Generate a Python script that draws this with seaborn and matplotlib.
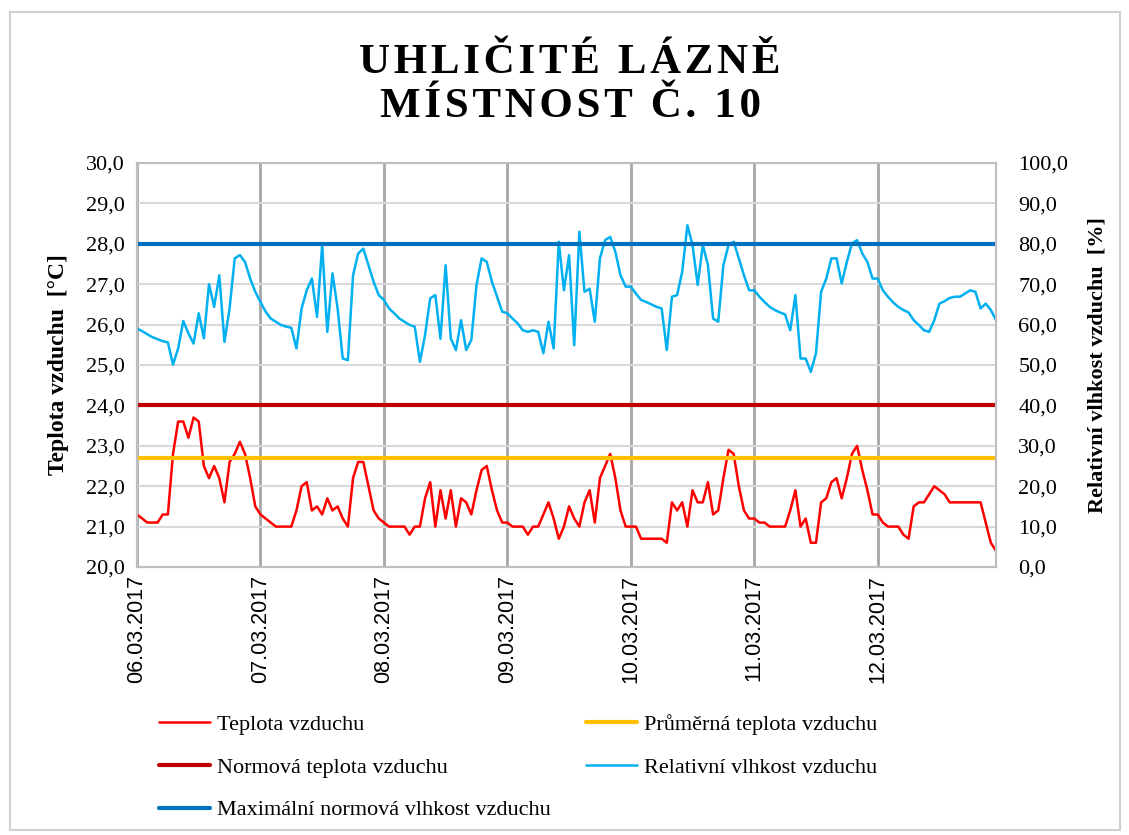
import numpy as np
import pandas as pd
import matplotlib
matplotlib.use("Agg")
import matplotlib.pyplot as plt
import seaborn as sns
from matplotlib.patches import Rectangle
from matplotlib.ticker import FuncFormatter

# hourly readings 06.03.2017 00:00 - 12.03.2017 23:00
teplota = [
    21.3, 21.2, 21.1, 21.1, 21.1, 21.3, 21.3, 22.8, 23.6, 23.6, 23.2, 23.7,
    23.6, 22.5, 22.2, 22.5, 22.2, 21.6, 22.6, 22.8, 23.1, 22.8, 22.2, 21.5,
    21.3, 21.2, 21.1, 21.0, 21.0, 21.0, 21.0, 21.4, 22.0, 22.1, 21.4, 21.5,
    21.3, 21.7, 21.4, 21.5, 21.2, 21.0, 22.2, 22.6, 22.6, 22.0, 21.4, 21.2,
    21.1, 21.0, 21.0, 21.0, 21.0, 20.8, 21.0, 21.0, 21.7, 22.1, 21.0, 21.9,
    21.2, 21.9, 21.0, 21.7, 21.6, 21.3, 21.9, 22.4, 22.5, 21.9, 21.4, 21.1,
    21.1, 21.0, 21.0, 21.0, 20.8, 21.0, 21.0, 21.3, 21.6, 21.2, 20.7, 21.0,
    21.5, 21.2, 21.0, 21.6, 21.9, 21.1, 22.2, 22.5, 22.8, 22.2, 21.4, 21.0,
    21.0, 21.0, 20.7, 20.7, 20.7, 20.7, 20.7, 20.6, 21.6, 21.4, 21.6, 21.0,
    21.9, 21.6, 21.6, 22.1, 21.3, 21.4, 22.2, 22.9, 22.8, 22.0, 21.4, 21.2,
    21.2, 21.1, 21.1, 21.0, 21.0, 21.0, 21.0, 21.4, 21.9, 21.0, 21.2, 20.6,
    20.6, 21.6, 21.7, 22.1, 22.2, 21.7, 22.2, 22.8, 23.0, 22.4, 21.9, 21.3,
    21.3, 21.1, 21.0, 21.0, 21.0, 20.8, 20.7, 21.5, 21.6, 21.6, 21.8, 22.0,
    21.9, 21.8, 21.6, 21.6, 21.6, 21.6, 21.6, 21.6, 21.6, 21.1, 20.6, 20.4,
]
vlhkost = [
    59.0, 58.4, 57.6, 56.9, 56.4, 55.9, 55.6, 50.1, 54.1, 60.9, 57.8, 55.3,
    62.8, 56.6, 70.0, 64.4, 72.2, 55.7, 64.0, 76.4, 77.2, 75.5, 71.4, 68.1,
    65.6, 63.2, 61.5, 60.7, 59.9, 59.5, 59.2, 54.1, 64.0, 68.5, 71.4, 61.9,
    79.7, 58.2, 72.7, 64.0, 51.6, 51.2, 72.2, 77.6, 78.8, 74.7, 70.6, 67.3,
    66.1, 64.0, 62.8, 61.5, 60.7, 59.9, 59.5, 50.8, 57.4, 66.5, 67.3, 56.5,
    74.7, 56.6, 53.7, 61.1, 53.7, 56.2, 69.8, 76.4, 75.5, 70.6, 66.9, 63.2,
    62.8, 61.5, 60.3, 58.6, 58.2, 58.6, 58.2, 52.9, 60.7, 54.1, 80.5, 68.5,
    77.2, 54.9, 83.0, 68.1, 68.9, 60.7, 76.4, 80.9, 81.7, 78.0, 72.2, 69.4,
    69.4, 67.7, 66.1, 65.6, 65.0, 64.4, 64.0, 53.7, 66.9, 67.3, 73.1, 84.6,
    79.7, 69.8, 79.7, 74.7, 61.5, 60.7, 74.7, 79.7, 80.5, 76.4, 72.2, 68.5,
    68.5, 66.9, 65.6, 64.4, 63.6, 63.0, 62.5, 58.6, 67.3, 51.6, 51.6, 48.3,
    52.9, 68.1, 71.4, 76.4, 76.4, 70.2, 75.5, 80.1, 80.9, 77.6, 75.5, 71.4,
    71.4, 68.5, 66.9, 65.5, 64.4, 63.6, 63.0, 61.1, 59.9, 58.6, 58.2, 61.1,
    65.2, 65.8, 66.6, 66.9, 66.9, 67.7, 68.5, 68.1, 64.0, 65.2, 63.6, 61.1,
]
dny = ["06.03.2017", "07.03.2017", "08.03.2017", "09.03.2017",
       "10.03.2017", "11.03.2017", "12.03.2017"]
prumerna_teplota = 22.7
normova_teplota = 24.0
max_vlhkost = 80.0

hodiny = np.arange(len(teplota))
df = pd.DataFrame({
    "hod": hodiny,
    "teplota": teplota,
    "prumer": prumerna_teplota,
    "norma": normova_teplota,
    "vlhkost": vlhkost,
    "max_vlhkost": max_vlhkost,
})

sns.set_style("white")
plt.rcParams["font.family"] = ["Liberation Serif", "DejaVu Serif"]
plt.rcParams["text.color"] = "black"
plt.rcParams["xtick.color"] = "black"
plt.rcParams["ytick.color"] = "black"
plt.rcParams["axes.labelcolor"] = "black"

fig = plt.figure(figsize=(11.29, 8.35), dpi=100)
fig.patches.append(Rectangle((10 / 1129, 5 / 835), 1110 / 1129, 818 / 835,
                             transform=fig.transFigure, fill=False,
                             edgecolor="#d0d0d0", linewidth=1.5))
ax = fig.add_axes([137 / 1129, 1 - 567 / 835, 859 / 1129, 404 / 835])
ax2 = ax.twinx()

sns.lineplot(data=df, x="hod", y="teplota", ax=ax, color="#FF0000", lw=1.8,
             label="Teplota vzduchu", legend=False)
sns.lineplot(data=df, x="hod", y="prumer", ax=ax, color="#FFC000", lw=3,
             label="Průměrná teplota vzduchu", legend=False)
sns.lineplot(data=df, x="hod", y="norma", ax=ax, color="#C00000", lw=3,
             label="Normová teplota vzduchu", legend=False)
sns.lineplot(data=df, x="hod", y="vlhkost", ax=ax2, color="#00B0F0", lw=1.8,
             label="Relativní vlhkost vzduchu", legend=False)
sns.lineplot(data=df, x="hod", y="max_vlhkost", ax=ax2, color="#0070C0", lw=3,
             label="Maximální normová vlhkost vzduchu", legend=False)

ax.set_xlim(0, len(teplota) - 1)
ax.set_ylim(20, 30)
ax2.set_ylim(0, 100)
ax.set_yticks(np.arange(20, 31, 1))
ax2.set_yticks(np.arange(0, 101, 10))
carka = FuncFormatter(lambda v, p: f"{v:.1f}".replace(".", ","))
ax.yaxis.set_major_formatter(carka)
ax2.yaxis.set_major_formatter(carka)

ax.set_xticks(np.arange(0, len(teplota), 24))
ax.set_xticklabels(dny, rotation=90, family="Liberation Sans", fontsize=15.5)
ax.grid(axis="y", color="#d9d9d9", lw=1.5)
ax.grid(axis="x", color="#a6a6a6", lw=2)
ax.set_axisbelow(True)
ax.tick_params(axis="x", length=0, pad=6)
ax.tick_params(axis="y", length=0, pad=9, labelsize=16)
ax2.tick_params(axis="y", length=0, pad=16, labelsize=16)
for a in (ax, ax2):
    for s in a.spines.values():
        s.set_color("#bfbfbf")
        s.set_linewidth(1.5)

ax.set_xlabel("")
ax.set_ylabel("Teplota vzduchu  [°C]", fontsize=17, fontweight="bold", labelpad=12)
ax2.set_ylabel("Relativní vlhkost vzduchu  [%]", fontsize=16, fontweight="bold",
               rotation=90, labelpad=14)

radky = ["UHLIČITÉ LÁZNĚ", "MÍSTNOST Č. 10"]
titulek = "\n".join("\u200a".join(r) for r in radky)
fig.text(0.505, 1 - 85 / 835, titulek, ha="center", va="center",
         fontsize=31, fontweight="bold", linespacing=1.2)

h1, l1 = ax.get_legend_handles_labels()
h2, l2 = ax2.get_legend_handles_labels()
poradi = [0, 2, 4, 1, 3]
handles = [(h1 + h2)[i] for i in poradi]
labels = [(l1 + l2)[i] for i in poradi]
fig.legend(handles, labels, ncol=2, loc="upper left",
           bbox_to_anchor=(139 / 1129, 1 - 694 / 835), frameon=False,
           fontsize=16, handlelength=2.3, handletextpad=0.3,
           columnspacing=1.6, labelspacing=1.0)

fig.savefig("out.png", dpi=100)
